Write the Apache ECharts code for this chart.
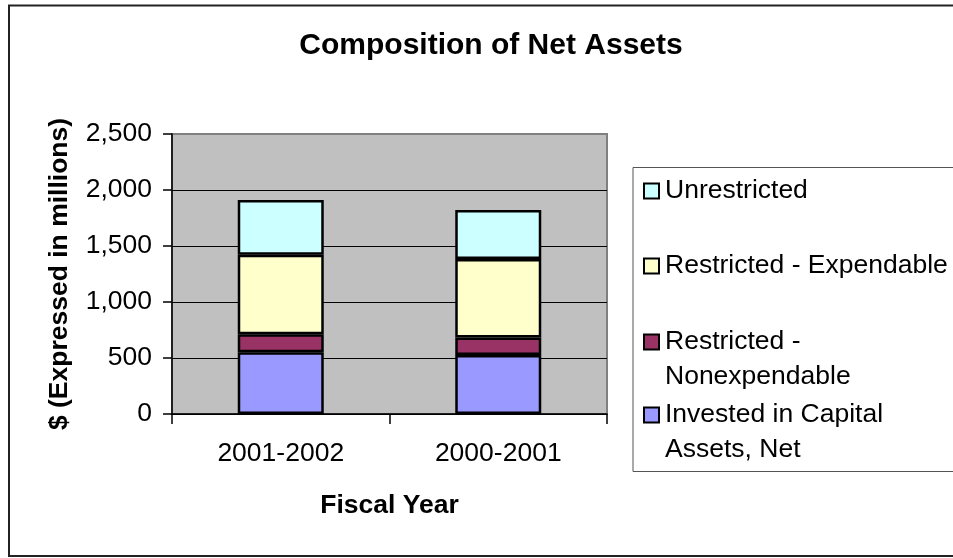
<!DOCTYPE html>
<html>
<head>
<meta charset="utf-8">
<title>Composition of Net Assets</title>
<script src="https://cdn.jsdelivr.net/npm/echarts@6/dist/echarts.min.js"></script>
<style>
  html, body { margin: 0; padding: 0; background: #fff; }
  #chart { width: 953px; height: 558px; }
</style>
</head>
<body>
<div id="chart"></div>
<script>
// Fiscal years shown on the category axis
const fiscalYears = ['2001-2002', '2000-2001'];

// Net asset components, $ millions (stacked bottom to top)
const investedCapital = [551, 527];
const restrictedNonexpendable = [161, 155];
const restrictedExpendable = [709, 701];
const unrestricted = [489, 438];

// Value axis ticks
const yTicks = [0, 500, 1000, 1500, 2000, 2500];

const FONT = '"Liberation Sans", Arial, Helvetica, sans-serif';

const seriesDefs = [
  { name: 'Invested in Capital\nAssets, Net', data: investedCapital, color: '#9999FF' },
  { name: 'Restricted -\nNonexpendable', data: restrictedNonexpendable, color: '#993366' },
  { name: 'Restricted - Expendable', data: restrictedExpendable, color: '#FFFFCC' },
  { name: 'Unrestricted', data: unrestricted, color: '#CCFFFF' }
];

// One legend block per entry so each can sit at its own row in the key box
const legendRows = [
  { name: 'Unrestricted', top: 173.5 },
  { name: 'Restricted - Expendable', top: 248.5 },
  { name: 'Restricted -\nNonexpendable', top: 289.5 },
  { name: 'Invested in Capital\nAssets, Net', top: 362.5 }
];

// Two-line entries get a blank leading line so the swatch lines up with the first text line
const legendLabel = n => (n.indexOf('\n') >= 0 ? ' \n' + n : n);

const chart = echarts.init(document.getElementById('chart'), null, { renderer: 'canvas' });

chart.setOption({
  animation: false,
  backgroundColor: '#ffffff',
  textStyle: { fontFamily: FONT },
  title: {
    text: 'Composition of Net Assets',
    left: 486,
    textAlign: 'center',
    top: 26,
    textStyle: { fontFamily: FONT, fontSize: 30, fontWeight: 'bold', color: '#000' }
  },
  graphic: [
    {
      type: 'rect', z: -10, silent: true,
      shape: { x: 9, y: 5.5, width: 1000, height: 550.5 },
      style: { fill: null, stroke: '#222', lineWidth: 2 }
    },
    {
      type: 'rect', z: -10, silent: true,
      shape: { x: 633, y: 167.5, width: 400, height: 304 },
      style: { fill: '#fff', stroke: '#555', lineWidth: 1 }
    }
  ],
  legend: legendRows.map(r => ({
    data: [r.name],
    formatter: legendLabel,
    left: 643,
    top: r.top,
    padding: 0,
    orient: 'vertical',
    icon: 'rect',
    itemWidth: 15,
    itemHeight: 15,
    selectedMode: false,
    itemStyle: { borderColor: '#000', borderWidth: 2 },
    textStyle: {
      fontFamily: FONT, fontSize: 26.5, color: '#000',
      lineHeight: 35, padding: [0, 0, 0, 1]
    }
  })),
  grid: {
    left: 172, right: 346, top: 134, bottom: 144,
    show: true,
    backgroundColor: '#C0C0C0',
    borderColor: '#808080',
    borderWidth: 2,
    containLabel: false
  },
  xAxis: {
    type: 'category',
    data: fiscalYears,
    name: 'Fiscal Year',
    nameLocation: 'middle',
    nameGap: 78,
    nameTextStyle: { fontFamily: FONT, fontSize: 26.5, fontWeight: 'bold', color: '#000' },
    axisLine: { lineStyle: { color: '#000', width: 1.5 } },
    axisTick: { show: true, length: 10, lineStyle: { color: '#000', width: 1.5 } },
    axisLabel: { margin: 26, fontFamily: FONT, fontSize: 26.5, color: '#000' },
    splitLine: { show: false }
  },
  yAxis: {
    type: 'value',
    min: yTicks[0],
    max: yTicks[yTicks.length - 1],
    interval: yTicks[1] - yTicks[0],
    name: '$ (Expressed in millions)',
    nameLocation: 'middle',
    nameRotate: 90,
    nameGap: 99,
    nameTextStyle: { fontFamily: FONT, fontSize: 26.5, fontWeight: 'bold', color: '#000' },
    axisLine: { show: true, lineStyle: { color: '#000', width: 1.5 } },
    axisTick: { show: true, length: 9, lineStyle: { color: '#000', width: 1.5 } },
    axisLabel: {
      margin: 20, fontFamily: FONT, fontSize: 26.5, color: '#000',
      formatter: v => v.toLocaleString('en-US')
    },
    splitLine: {
      show: true,
      lineStyle: { color: ['#000', '#000', '#000', '#000', '#000', '#808080'], width: 1 }
    }
  },
  series: seriesDefs.map(s => ({
    type: 'bar',
    name: s.name,
    stack: 'netAssets',
    data: s.data,
    barWidth: 86,
    itemStyle: { color: s.color, borderColor: '#000', borderWidth: 2.5 },
    emphasis: { disabled: true }
  }))
});
</script>
</body>
</html>
